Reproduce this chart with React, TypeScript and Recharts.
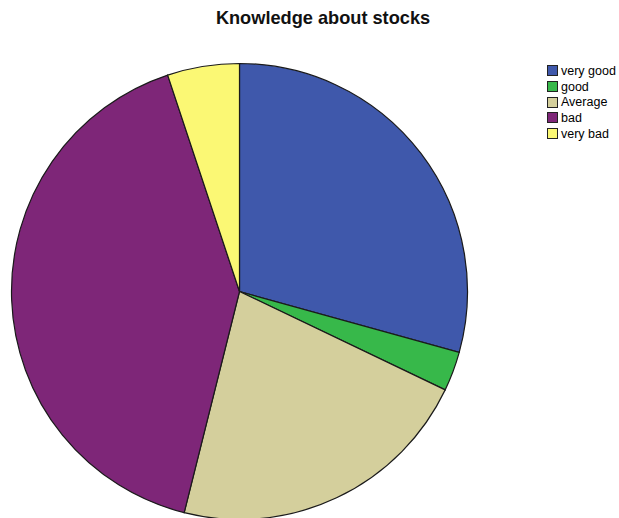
import { PieChart, Pie, Cell, Legend } from 'recharts'

const categories = ['very good', 'good', 'Average', 'bad', 'very bad']
const percents = [29.3, 2.8, 21.8, 41.0, 5.1]
const colors = ['#3f58ab', '#37b84a', '#d4cf9c', '#7e2678', '#fbf874']

const data = categories.map((name, i) => ({ name, value: percents[i] }))

// legenda no estilo SPSS: quadradinho com borda + texto
function Leg() {
  return (
    <div style={{ fontFamily: 'Arial, "Liberation Sans", sans-serif', fontSize: 12.5, color: '#000' }}>
      {categories.map((c, i) => (
        <div key={c} style={{ display: 'flex', alignItems: 'center', height: 15.7, whiteSpace: 'nowrap' }}>
          <span style={{
            width: 11, height: 11, background: colors[i], border: '1px solid #222',
            display: 'inline-block', marginRight: 3, boxSizing: 'border-box',
          }} />
          {c}
        </div>
      ))}
    </div>
  )
}

export default function App() {
  return (
    <div style={{ position: 'absolute', left: 0, top: 0, width: 619, height: 518, background: '#fff', overflow: 'hidden' }}>
      <div style={{
        position: 'absolute', top: 8, left: 0, width: 646, textAlign: 'center',
        fontFamily: 'Arial, "Liberation Sans", sans-serif', fontWeight: 700, fontSize: 18.2, color: '#111',
      }}>
        Knowledge about stocks
      </div>
      <PieChart width={619} height={518} margin={{ top: 0, right: 0, left: 0, bottom: 0 }}>
        <Pie data={data} dataKey="value" nameKey="name" cx={239.5} cy={291.5} outerRadius={228}
          startAngle={90} endAngle={-270} stroke="#1a1a1a" strokeWidth={1.2} isAnimationActive={false}>
          {data.map((d, i) => <Cell key={d.name} fill={colors[i]} />)}
        </Pie>
        <Legend content={<Leg />} layout="vertical" verticalAlign="top" align="right"
          wrapperStyle={{ position: 'absolute', left: 547, top: 63, width: 80 }} />
      </PieChart>
    </div>
  )
}
